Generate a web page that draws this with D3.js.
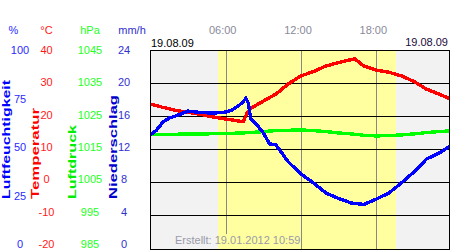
<!DOCTYPE html>
<html>
<head>
<meta charset="utf-8">
<script src="https://cdn.jsdelivr.net/npm/d3@7"></script>
<style>
  body { margin: 0; background: #fff; }
  svg { display: block; font-family: "Liberation Sans", Arial, sans-serif; }
</style>
</head>
<body>
<div id="chart"></div>
<script>
// weather of 19.08.09, hours since midnight
var tempHours = [0, 1, 2, 3, 4, 5, 6, 7, 7.4, 7.7, 8, 9, 10, 11, 12, 13, 14, 15, 16, 16.3, 17, 18, 19, 20, 21, 22, 23, 23.8];
var tempValues = [23.7, 22.7, 21.8, 21.2, 20.6, 19.8, 19.2, 18.6, 18.4, 21.0, 22.4, 24.6, 26.7, 29.8, 32.2, 33.5, 35.2, 36.2, 37.1, 37.3, 35.2, 33.9, 33.3, 32.2, 30.5, 28.2, 26.7, 25.4];

var humHours = [0, 0.5, 1, 1.5, 2, 3, 4, 5, 6, 6.5, 7, 7.3, 7.6, 7.8, 8, 8.5, 9, 9.5, 10, 11, 12, 13, 14, 15, 16, 17, 18, 19, 20, 21, 22, 23, 23.8];
var humValues = [57.3, 59.8, 63.8, 65.8, 66.8, 69.3, 68.6, 68.3, 68.8, 69.8, 71.9, 73.4, 75.6, 73.4, 65.3, 62.3, 58.3, 52.8, 52.3, 43.7, 37.7, 33.2, 28.1, 25.4, 23.1, 22.4, 25.1, 28.1, 33.2, 38.7, 45.2, 48.2, 51.3];

var presHours = [0, 2, 4, 6, 8, 9, 10, 11, 12, 13, 14, 15, 16, 17, 18, 19, 20, 21, 22, 23, 23.8];
var presValues = [1019.6, 1019.6, 1019.7, 1019.8, 1020.1, 1020.4, 1020.7, 1020.8, 1020.9, 1020.7, 1020.4, 1020.0, 1019.7, 1019.3, 1019.1, 1019.2, 1019.4, 1019.7, 1020.1, 1020.4, 1020.6];

var humTicks = [0, 25, 50, 75, 100];
var tempTicks = [-20, -10, 0, 10, 20, 30, 40];
var presTicks = [985, 995, 1005, 1015, 1025, 1035, 1045];
var rainTicks = [0, 4, 8, 12, 16, 20, 24];

var timeTicks = [6, 12, 18];
var timeLabels = ["06:00", "12:00", "18:00"];
var daylight = [5.4, 19.6];

var dateLabel = "19.08.09";
var createdLabel = "Erstellt: 19.01.2012 10:59";

(function () {
  var width = 450, height = 250;
  var pLeft = 150, pRight = 449, pTop = 50, pBottom = 249;

  var svg = d3.select('#chart').append('svg')
    .attr('width', width)
    .attr('height', height);

  var x = d3.scaleLinear().domain([0, 24]).range([150.4, 451.6]);

  var axes = [
    {name: "Luftfeuchtigkeit", unit: "%", domain: [0, 100], ticks: humTicks, color: "#0000ff", tickColor: "#2a2aff", tx: 20, ux: 13.5, lx: 5.5, len: 119},
    {name: "Temperatur", unit: "°C", domain: [-20, 40], ticks: tempTicks, color: "#ff0000", tickColor: "#ff1a1a", tx: 46.5, ux: 46.5, lx: 35, len: 91},
    {name: "Luftdruck", unit: "hPa", domain: [985, 1045], ticks: presTicks, color: "#00ee00", tickColor: "#22ff22", tx: 90, ux: 90, lx: 72, len: 74},
    {name: "Niederschlag", unit: "mm/h", domain: [0, 24], ticks: rainTicks, color: "#0000cc", tickColor: "#3030d0", tx: 124, ux: 132, lx: 112.5, len: 104}
  ];

  axes.forEach(function (a) {
    a.y = d3.scaleLinear().domain(a.domain).range([pBottom, pTop]);
    a.labelY = d3.scaleLinear().domain(a.domain).range([244, 50]);
  });

  // plot background: night grey, daylight yellow
  svg.append('rect')
    .attr('x', pLeft).attr('y', pTop)
    .attr('width', pRight - pLeft).attr('height', pBottom - pTop)
    .attr('fill', '#f2f2f2');

  svg.append('rect')
    .attr('x', Math.round(x(daylight[0]))).attr('y', pTop)
    .attr('width', Math.round(x(daylight[1]) - x(daylight[0]))).attr('height', pBottom - pTop)
    .attr('fill', '#ffffa0');

  // created text (drawn early so the grid line can stop above it)
  var created = svg.append('text')
    .attr('x', 175).attr('y', 244)
    .attr('font-size', 11)
    .attr('fill', '#9a9aaa')
    .text(createdLabel);
  var cb = created.node().getBBox();

  // vertical time lines
  svg.selectAll('.vline')
    .data(timeTicks)
    .enter().append('line')
    .attr('class', 'vline')
    .attr('x1', function (d) { return Math.round(x(d)) + 0.5; })
    .attr('x2', function (d) { return Math.round(x(d)) + 0.5; })
    .attr('y1', pTop)
    .attr('y2', function (d) {
      var px = x(d);
      return (px > cb.x && px < cb.x + cb.width) ? cb.y : pBottom;
    })
    .attr('stroke', '#888888')
    .attr('stroke-width', 1);

  // horizontal grid from temperature scale
  var tempY = axes[1].y;
  svg.selectAll('.hline')
    .data(tempTicks.slice(1, -1))
    .enter().append('line')
    .attr('class', 'hline')
    .attr('x1', pLeft).attr('x2', pRight)
    .attr('y1', function (d) { return Math.floor(tempY(d)) + 0.5; })
    .attr('y2', function (d) { return Math.floor(tempY(d)) + 0.5; })
    .attr('stroke', '#000')
    .attr('stroke-width', 1);

  svg.append('clipPath').attr('id', 'plotclip')
    .append('rect')
    .attr('x', pLeft).attr('y', pTop)
    .attr('width', pRight - pLeft).attr('height', pBottom - pTop);

  function drawSeries(hrs, vals, scale, color) {
    var pts = hrs.map(function (h, i) { return [h, vals[i]]; });
    var line = d3.line()
      .x(function (d) { return x(d[0]); })
      .y(function (d) { return scale(d[1]); });
    svg.append('path')
      .datum(pts)
      .attr('clip-path', 'url(#plotclip)')
      .attr('d', line)
      .attr('fill', 'none')
      .attr('stroke', color)
      .attr('stroke-width', 3.4)
      .attr('stroke-linejoin', 'miter')
      .attr('stroke-linecap', 'square')
      .attr('shape-rendering', 'crispEdges');
  }

  drawSeries(presHours, presValues, axes[2].y, '#00ff00');
  drawSeries(tempHours, tempValues, axes[1].y, '#ff0000');
  drawSeries(humHours, humValues, axes[0].y, '#0000ff');

  // plot frame
  svg.append('rect')
    .attr('x', pLeft + 0.5).attr('y', pTop + 0.5)
    .attr('width', pRight - pLeft).attr('height', pBottom - pTop)
    .attr('fill', 'none')
    .attr('stroke', '#000');

  // axis columns on the left
  axes.forEach(function (a) {
    svg.append('text')
      .attr('x', a.ux).attr('y', 30)
      .attr('text-anchor', 'middle')
      .attr('dominant-baseline', 'central')
      .attr('font-size', 11)
      .attr('fill', a.tickColor)
      .text(a.unit);

    svg.selectAll(null)
      .data(a.ticks)
      .enter().append('text')
      .attr('x', a.tx)
      .attr('y', function (d) { return a.labelY(d); })
      .attr('text-anchor', 'middle')
      .attr('dominant-baseline', 'central')
      .attr('font-size', 11)
      .attr('fill', a.tickColor)
      .text(function (d) { return d; });

    svg.append('text')
      .attr('transform', 'translate(' + (a.lx + 4) + ',199) rotate(-90)')
      .attr('font-size', 11)
      .attr('font-weight', 'bold')
      .attr('fill', a.color)
      .attr('textLength', a.len)
      .attr('lengthAdjust', 'spacingAndGlyphs')
      .text(a.name);
  });

  // time labels on top
  svg.selectAll('.tlabel')
    .data(timeTicks)
    .enter().append('text')
    .attr('class', 'tlabel')
    .attr('x', function (d) { return x(d) - 3; })
    .attr('y', 30)
    .attr('text-anchor', 'middle')
    .attr('dominant-baseline', 'central')
    .attr('font-size', 11)
    .attr('fill', '#8a8a9a')
    .text(function (d, i) { return timeLabels[i]; });

  svg.append('text')
    .attr('x', pLeft + 1).attr('y', 43)
    .attr('dominant-baseline', 'central')
    .attr('font-size', 11)
    .attr('fill', '#000')
    .text(dateLabel);

  svg.append('text')
    .attr('x', 448).attr('y', 42)
    .attr('text-anchor', 'end')
    .attr('dominant-baseline', 'central')
    .attr('font-size', 11)
    .attr('fill', '#1a0a40')
    .text(dateLabel);
})();
</script>
</body>
</html>
